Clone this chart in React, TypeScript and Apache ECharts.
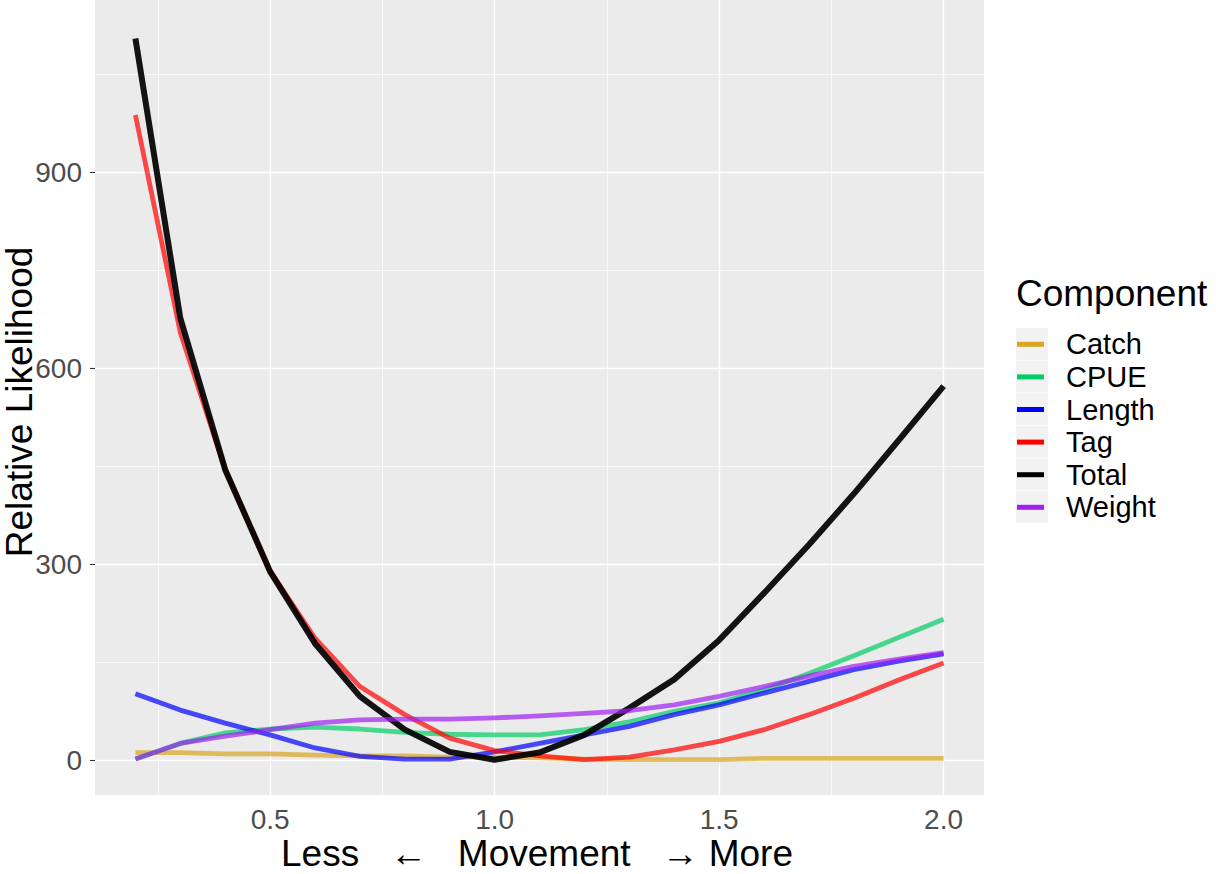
import React, { useEffect, useRef } from 'react';
import * as echarts from 'echarts';

const xValues = [0.2, 0.3, 0.4, 0.5, 0.6, 0.7, 0.8, 0.9, 1.0, 1.1, 1.2, 1.3, 1.4, 1.5, 1.6, 1.7, 1.8, 1.9, 2.0];
const catchVals = [12, 12, 10, 10, 8, 7, 7, 5, 5, 4, 2, 1, 1, 1, 3, 3, 3, 3, 3];
const cpueVals = [2, 26, 42, 48, 51, 48, 43, 40, 39, 39, 47, 59, 75, 88, 108, 133, 160, 188, 216];
const lengthVals = [102, 77, 57, 39, 19, 6, 2, 2, 13, 26, 39, 52, 70, 85, 103, 121, 139, 152, 163];
const tagVals = [988, 655, 445, 290, 187, 113, 70, 34, 15, 7, 1, 5, 16, 29, 47, 70, 95, 123, 149];
const totalVals = [1105, 677, 445, 289, 179, 98, 47, 13, 1, 12, 39, 80, 124, 184, 256, 330, 408, 490, 573];
const weightVals = [2, 26, 37, 47, 57, 62, 63, 63, 65, 68, 72, 76, 85, 98, 113, 129, 144, 155, 165];

const seriesNames = ['Catch', 'CPUE', 'Length', 'Tag', 'Total', 'Weight'];
const seriesValues = [catchVals, cpueVals, lengthVals, tagVals, totalVals, weightVals];
const seriesColors = ['#DAA520', '#00CD66', '#0000FF', '#FF0000', '#000000', '#A020F0'];

const yTicks = [0, 300, 600, 900];
const yMinor = [150, 450, 750, 1050];
const xTicks = [0.5, 1.0, 1.5, 2.0];
const xMinor = [0.25, 0.75, 1.25, 1.75];

const FONT = 'Arial, "Liberation Sans", Helvetica, sans-serif';

export default function App() {
  const ref = useRef<HTMLDivElement>(null);

  useEffect(() => {
    if (!ref.current) return;
    const chart = echarts.init(ref.current, undefined, { renderer: 'svg' });

    const gridMarks: any[] = [];
    yTicks.forEach((v) => gridMarks.push({ yAxis: v, lineStyle: { width: 1.4 } }));
    yMinor.forEach((v) => gridMarks.push({ yAxis: v, lineStyle: { width: 0.7 } }));
    xTicks.forEach((v) => gridMarks.push({ xAxis: v, lineStyle: { width: 1.4 } }));
    xMinor.forEach((v) => gridMarks.push({ xAxis: v, lineStyle: { width: 0.7 } }));

    const lineSeries = seriesNames.map((name, i) => ({
      name,
      type: 'line',
      data: xValues.map((x, j) => [x, seriesValues[i][j]]),
      symbol: 'none',
      showSymbol: false,
      color: seriesColors[i],
      z: 3,
      lineStyle: {
        width: name === 'Total' ? 6 : 4.8,
        opacity: name === 'Total' ? 0.92 : 0.7,
        join: 'round',
      },
    }));

    const keyRects = seriesNames.map((_, i) => ({
      type: 'rect',
      z: 0,
      shape: { x: 1016, y: 328 + i * 32.6, width: 32, height: 31.8 },
      style: { fill: '#F2F2F2' },
    }));

    chart.setOption({
      animation: false,
      backgroundColor: '#FFFFFF',
      grid: {
        left: 95,
        right: 232,
        top: 0,
        bottom: 79,
        show: true,
        backgroundColor: '#EBEBEB',
        borderWidth: 0,
      },
      xAxis: {
        type: 'value',
        min: 0.11,
        max: 2.09,
        axisLine: { show: false },
        splitLine: { show: false },
        axisTick: { show: true, customValues: xTicks, length: 5, lineStyle: { color: '#333333', width: 1.1 } },
        axisLabel: {
          customValues: xTicks,
          formatter: (v: number) => v.toFixed(1),
          color: '#4D4D4D',
          fontSize: 28,
          fontFamily: FONT,
          margin: 10,
        },
      },
      yAxis: {
        type: 'value',
        min: -53,
        max: 1164,
        axisLine: { show: false },
        splitLine: { show: false },
        axisTick: { show: true, customValues: yTicks, length: 5, lineStyle: { color: '#333333', width: 1.1 } },
        axisLabel: {
          customValues: yTicks,
          color: '#4D4D4D',
          fontSize: 28,
          fontFamily: FONT,
          margin: 13,
        },
      },
      legend: {
        data: seriesNames,
        orient: 'vertical',
        left: 1017,
        top: 328,
        padding: 0,
        itemGap: 0,
        itemWidth: 27,
        itemHeight: 5,
        icon: 'rect',
        selectedMode: false,
        textStyle: {
          fontSize: 29,
          fontFamily: FONT,
          color: '#000000',
          lineHeight: 32.6,
          padding: [0, 0, 0, 17],
        },
      },
      graphic: [
        ...keyRects,
        {
          type: 'text',
          left: 1016,
          top: 275,
          style: { text: 'Component', fontSize: 37, fontFamily: FONT, fill: '#000000' },
        },
        {
          type: 'text',
          x: 19,
          y: 402,
          rotation: Math.PI / 2,
          style: {
            text: 'Relative Likelihood',
            fontSize: 37,
            fontFamily: FONT,
            fill: '#000000',
            textAlign: 'center',
            textVerticalAlign: 'middle',
          },
        },
        {
          type: 'text',
          x: 537,
          y: 853,
          style: {
            text: 'Less   \u2190   Movement   \u2192 More',
            fontSize: 37,
            fontFamily: FONT,
            fill: '#000000',
            textAlign: 'center',
            textVerticalAlign: 'middle',
          },
        },
      ],
      series: [
        {
          name: '__grid',
          type: 'line',
          data: [],
          silent: true,
          z: 1,
          markLine: {
            z: 1,
            silent: true,
            symbol: 'none',
            label: { show: false },
            animation: false,
            lineStyle: { color: '#FFFFFF', type: 'solid', width: 1.4 },
            data: gridMarks,
          },
        },
        ...lineSeries,
      ],
    });

    return () => chart.dispose();
  }, []);

  return (
    <div
      ref={ref}
      style={{ position: 'absolute', left: 0, top: 0, width: 1216, height: 874 }}
    />
  );
}
